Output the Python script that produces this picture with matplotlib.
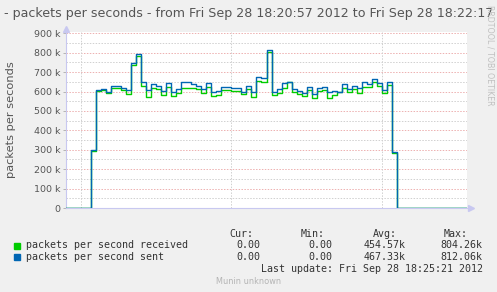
import matplotlib
matplotlib.use("Agg")
import matplotlib.pyplot as plt
from matplotlib.patches import Rectangle

# seconds since 18:20:57, one sample per second
seconds = list(range(80))
start_second = 57

# packets per second, in thousands
received = [0, 0, 0, 0, 0, 295, 605, 610, 595, 619,
            619, 610, 590, 736, 783, 631, 574, 617, 612, 582,
            625, 577, 595, 620, 620, 617, 613, 595, 625, 577,
            582, 608, 608, 603, 603, 586, 613, 574, 656, 648,
            804, 582, 595, 620, 648, 600, 586, 579, 608, 565,
            603, 608, 565, 582, 596, 617, 600, 613, 595, 622,
            625, 648, 631, 595, 634, 283, 0, 0, 0, 0,
            0, 0, 0, 0, 0, 0, 0, 0, 0, 0]
sent = [0, 0, 0, 0, 0, 300, 610, 615, 598, 628,
        628, 619, 610, 745, 793, 647, 607, 641, 628, 603,
        643, 596, 612, 651, 651, 638, 629, 612, 646, 596,
        603, 625, 625, 620, 617, 600, 631, 596, 677, 668,
        812, 600, 612, 646, 651, 612, 603, 594, 625, 588,
        617, 625, 596, 603, 596, 638, 612, 631, 617, 648,
        639, 663, 646, 608, 651, 290, 0, 0, 0, 0,
        0, 0, 0, 0, 0, 0, 0, 0, 0, 0]

ytick_values = [0, 100, 200, 300, 400, 500, 600, 700, 800, 900]
ytick_labels = ["0", "100 k", "200 k", "300 k", "400 k", "500 k",
                "600 k", "700 k", "800 k", "900 k"]

series_names = ["packets per second received", "packets per second sent"]
series_colors = ["#00CC00", "#0066B3"]
cur_vals = ["0.00", "0.00"]
min_vals = ["0.00", "0.00"]
avg_vals = ["454.57k", "467.33k"]
max_vals = ["804.26k", "812.06k"]

W, H = 497, 292
BG = "#F0F0F0"
TXT = "#555555"
MONO = "DejaVu Sans Mono"


def fx(px):
    return px / W


def fy(py):
    return 1 - py / H


fig = plt.figure(figsize=(W / 100, H / 100), dpi=100, facecolor=BG)
ax = fig.add_axes([fx(66), fy(208), fx(401), 176 / H])
ax.set_facecolor("white")

# grid: minor gray every 50k, major red every 100k, vertical every 30 s
for v in range(50, 901, 100):
    ax.axhline(v, color="#D0D0D0", lw=0.7, ls=(0, (1.5, 1.5)), zorder=1)
for v in ytick_values[1:]:
    ax.axhline(v, color="#EDB0B0", lw=0.7, ls=(0, (1.5, 1.5)), zorder=1)
for t in seconds:
    if (start_second + t) % 30 == 0:
        ax.axvline(t, color="#D0D0D0", lw=0.7, ls=(0, (1.5, 1.5)), zorder=1)

# step lines, green drawn first so blue sits on top
xs = seconds + [seconds[-1] + 1]
ax.plot(xs, received + [received[-1]], drawstyle="steps-post",
        color=series_colors[0], lw=1.0, zorder=3)
ax.plot(xs, sent + [sent[-1]], drawstyle="steps-post",
        color=series_colors[1], lw=1.0, zorder=4)

ax.set_xlim(0, 80)
ax.set_ylim(0, 907)
ax.set_xticks([])
ax.set_yticks(ytick_values)
ax.set_yticklabels(ytick_labels, fontsize=6.8, color=TXT)
ax.tick_params(axis="y", length=2, width=0.6, color="#AAAAAA", pad=2)

for side in ["top", "right"]:
    ax.spines[side].set_visible(False)
for side in ["left", "bottom"]:
    ax.spines[side].set_color("#C8C8F0")
    ax.spines[side].set_linewidth(0.8)

# little rrdtool style arrows on the axes
ax.plot([0], [1.015], marker="^", ms=4, color="#C8C8F0", transform=ax.transAxes,
        clip_on=False)
ax.plot([1.01], [0], marker=">", ms=4, color="#C8C8F0", transform=ax.transAxes,
        clip_on=False)

fig.text(0.5, fy(13), "- packets per seconds - from Fri Sep 28 18:20:57 2012 "
         "to Fri Sep 28 18:22:17", ha="center", va="center", fontsize=9.1,
         color=TXT)
fig.text(fx(11), fy(120), "packets per seconds", rotation=90, ha="center",
         va="center", fontsize=8.2, color=TXT)
fig.text(fx(490), fy(5), "RRDTOOL / TOBI OETIKER", rotation=270, ha="center",
         va="top", fontsize=5.7, color="#C0C0C0")

# legend block
fig.text(fx(253), fy(234), "Cur:", ha="right", va="center", fontsize=7.2,
         family=MONO, color="#333333")
fig.text(fx(325), fy(234), "Min:", ha="right", va="center", fontsize=7.2,
         family=MONO, color="#333333")
fig.text(fx(397), fy(234), "Avg:", ha="right", va="center", fontsize=7.2,
         family=MONO, color="#333333")
fig.text(fx(468), fy(234), "Max:", ha="right", va="center", fontsize=7.2,
         family=MONO, color="#333333")

row_y = [245.5, 257.3]
for i in range(2):
    fig.patches.append(Rectangle((fx(14), fy(row_y[i] + 3)), fx(6), 6 / H,
                                 transform=fig.transFigure,
                                 color=series_colors[i]))
    fig.text(fx(26.5), fy(row_y[i]), series_names[i], ha="left", va="center",
             fontsize=7.2, family=MONO, color="#333333")
    for col_x, vals in [(260, cur_vals), (332.7, min_vals),
                        (406, avg_vals), (482.7, max_vals)]:
        fig.text(fx(col_x), fy(row_y[i]), vals[i], ha="right", va="center",
                 fontsize=7.2, family=MONO, color="#333333")

fig.text(fx(482.7), fy(269.5), "Last update: Fri Sep 28 18:25:21 2012",
         ha="right", va="center", fontsize=7.2, family=MONO, color="#333333")
fig.text(fx(249), fy(281), "Munin unknown", ha="center", va="center",
         fontsize=5.9, color="#B4B4B4")

fig.savefig("out.png", dpi=100, facecolor=BG)
